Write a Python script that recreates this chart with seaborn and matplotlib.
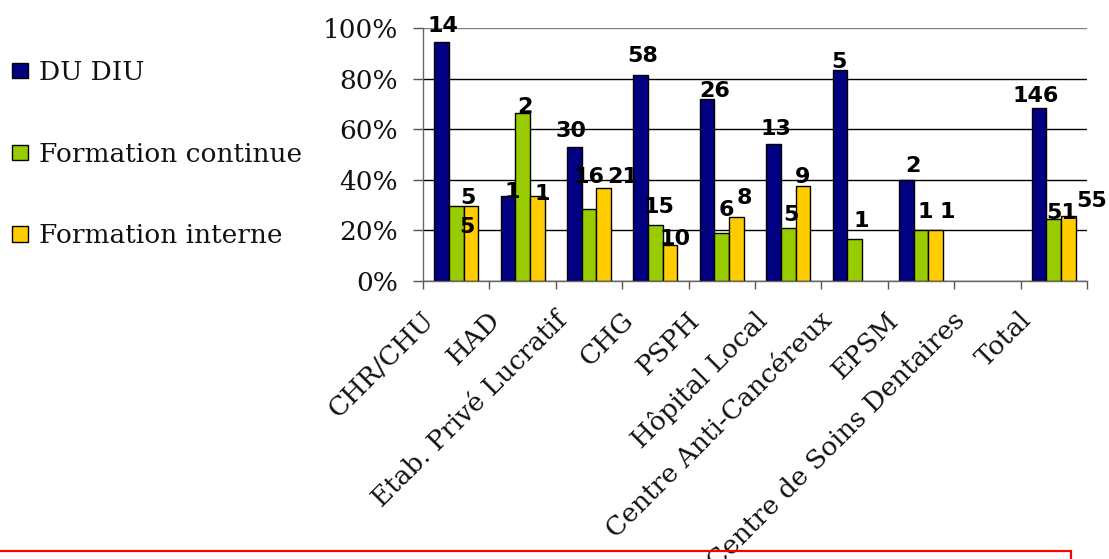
import matplotlib
matplotlib.use("Agg")
import matplotlib.pyplot as plt
import matplotlib.transforms as mtransforms
from matplotlib.lines import Line2D
import numpy as np
import pandas as pd
import seaborn as sns

# Categories of establishment and training type
categories = ["CHR/CHU", "HAD", "Etab. Privé Lucratif", "CHG", "PSPH",
              "Hôpital Local", "Centre Anti-Cancéreux", "EPSM",
              "Centre de Soins Dentaires", "Total"]
series = ["DU DIU", "Formation continue", "Formation interne"]

# Share of establishments (%) per training type (NaN = no bar)
du_diu_pct = [94.6, 33.6, 53.0, 81.5, 71.9, 54.2, 83.3, 40.0, np.nan, 68.5]
continue_pct = [29.6, 66.6, 28.3, 22.0, 18.8, 20.8, 16.7, 20.0, np.nan, 24.6]
interne_pct = [29.6, 33.4, 36.9, 14.2, 25.4, 37.5, np.nan, 20.0, np.nan, 25.8]

# Counts written above the bars
du_diu_n = [14, 1, 30, 58, 26, 13, 5, 2, None, 146]
continue_n = [5, 2, 16, 15, 6, 5, 1, 1, None, 51]
interne_n = [5, 1, 21, 10, 8, 9, None, 1, None, 55]

y_ticks = [0, 20, 40, 60, 80, 100]

colors = {"DU DIU": "#000080", "Formation continue": "#99CC00",
          "Formation interne": "#FFCC00"}

# Label nudges in pixels (dx, dy of the baseline above the bar top)
label_nudge = {
    "DU DIU": [(1, 10), (4, -2), (-3, 10), (2, 13), (7, 2), (2, 9), (-1, 2), (7, 8), None, (-4, 6)],
    "Formation continue": [(12, 2), (2, 0), (0, 26), (4, 12), (5, 17), (3, 7), (7, 12), (4, 12), None, (8, 0)],
    "Formation interne": [(-4, -27), (5, -4), (19, 5), (5, 0), (8, 13), (0, 3), None, (12, 12), None, (23, 9)],
}

pct = {"DU DIU": du_diu_pct, "Formation continue": continue_pct,
       "Formation interne": interne_pct}
counts = {"DU DIU": du_diu_n, "Formation continue": continue_n,
          "Formation interne": interne_n}

rows = []
for s in series:
    for c, v in zip(categories, pct[s]):
        rows.append({"Etablissement": c, "Formation": s, "Pourcentage": v})
df = pd.DataFrame(rows)

sns.set_theme(style="white")
plt.rcParams["font.family"] = ["DejaVu Serif"]
plt.rcParams["text.color"] = "black"

fig = plt.figure(figsize=(11.09, 5.59), dpi=100)
ax = fig.add_axes([423 / 1109, 1 - 281 / 559, 664 / 1109, 253 / 559])

group_width = 0.66
sns.barplot(data=df, x="Etablissement", y="Pourcentage", hue="Formation",
            order=categories, hue_order=series, palette=colors,
            width=group_width, saturation=1, edgecolor="black", linewidth=1,
            errorbar=None, ax=ax)

ax.set_xlim(-0.5, len(categories) - 0.5)
ax.set_ylim(0, 100)
ax.set_xlabel("")
ax.set_ylabel("")

text_size = 19

# Y axis
ax.set_yticks(y_ticks)
ax.set_yticklabels([f"{v}%" for v in y_ticks], fontsize=text_size)
ax.tick_params(axis="y", direction="out", length=7, width=1, color="#555555",
               pad=11, left=True, labelcolor="#111111")
ax.yaxis.grid(True, color="black", linewidth=1)
ax.set_axisbelow(True)
ax.get_ygridlines()[-1].set_color("#808080")

# X axis: ticks between categories, rotated labels
ax.set_xticks(np.arange(len(categories)))
ax.set_xticklabels(categories, fontsize=text_size, rotation=45, ha="right",
                   va="top", rotation_mode="anchor", color="#111111")
ax.set_xticks(np.arange(len(categories) + 1) - 0.5, minor=True)
ax.tick_params(axis="x", which="major", length=0, pad=19)
ax.tick_params(axis="x", which="minor", direction="out", length=6, width=1,
               color="#555555", bottom=True)
shift = mtransforms.ScaledTranslation(-35 / 100, 0, fig.dpi_scale_trans)
for lab in ax.get_xticklabels():
    lab.set_transform(lab.get_transform() + shift)

for side in ["top", "right"]:
    ax.spines[side].set_visible(False)
for side in ["left", "bottom"]:
    ax.spines[side].set_color("#666666")
    ax.spines[side].set_linewidth(1)

# Count labels
bar_w = group_width / len(series)
for j, s in enumerate(series):
    for i, c in enumerate(categories):
        n = counts[s][i]
        v = pct[s][i]
        nudge = label_nudge[s][i]
        if n is None or nudge is None or np.isnan(v):
            continue
        x = i + (j - 1) * bar_w
        ax.annotate(str(n), xy=(x, v), xytext=nudge, textcoords="offset pixels",
                    ha="center", va="baseline", fontsize=16, fontweight="bold",
                    family=["DejaVu Sans"], color="black", annotation_clip=False)

# Legend at the left of the figure
handles, labels = ax.get_legend_handles_labels()
leg = ax.legend(handles, labels, loc="upper left",
                bbox_to_anchor=(12 / 1109, 1 - 60 / 559),
                bbox_transform=fig.transFigure, frameon=False, fontsize=text_size,
                handlelength=0.6, handleheight=0.53, handletextpad=0.42,
                labelspacing=2.15, borderpad=0, borderaxespad=0)
for t in leg.get_texts():
    t.set_color("#111111")

# Red frame below the chart
fig.add_artist(Line2D([0, 1071 / 1109, 1071 / 1109], [1 - 551 / 559, 1 - 551 / 559, 0],
                      transform=fig.transFigure, color="#FF0000", linewidth=1.6,
                      solid_joinstyle="miter"))

fig.savefig("out.png", dpi=100)
